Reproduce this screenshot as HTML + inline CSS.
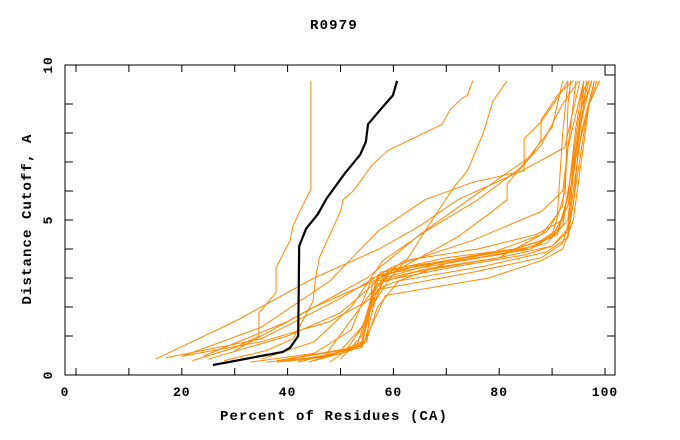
<!DOCTYPE html>
<html><head><meta charset="utf-8"><style>
html,body{margin:0;padding:0;background:#fff;}
svg{display:block;font-family:"Liberation Mono",monospace;font-weight:bold;}
</style></head><body>
<svg id="chart" width="680" height="440" viewBox="0 0 680 440" xmlns="http://www.w3.org/2000/svg">
<text x="334" y="29" text-anchor="middle" font-size="14" letter-spacing="1.2">R0979</text>
<text x="334" y="420" text-anchor="middle" font-size="14" letter-spacing="1.1">Percent of Residues (CA)</text>
<text transform="translate(31,219) rotate(-90)" text-anchor="middle" font-size="14" letter-spacing="1.1">Distance Cutoff, A</text>
<g id="ticks"></g>
<g id="series"></g>
<rect x="65" y="65" width="550" height="310" fill="none" stroke="#000" stroke-width="1"/>
<path d="M605,65V75H615" fill="none" stroke="#000"/>
</svg>
<script>
const xTicks=[0,20,40,60,80,100];
const yTicks=[0,5,10];
const referenceModel=[[25.9,0.0],[39.1,0.45],[40.5,0.6],[42,1.0],[42.2,4.1],[43.5,4.7],[45.7,5.2],[47.4,5.75],[50.8,6.6],[53.7,7.25],[54.8,7.7],[55.2,8.3],[57.5,8.8],[59.9,9.3],[60.7,9.8]];
const m01=[[22,0.15],[30,0.6],[34.6,1.0],[34.6,1.8],[37.8,2.5],[37.8,3.35],[40.5,4.3],[41,4.8],[44.2,6.0],[44.4,6.1],[44.4,9.8]];
const m02=[[28,0.15],[36,0.5],[41,0.9],[44.8,2.2],[45.3,3.0],[46,3.7],[50,5.3],[50.5,5.7],[52.4,6.0],[56,6.9],[59,7.4],[69.2,8.3],[70.7,8.8],[73,9.2],[74,9.3],[75,9.8]];
const m03=[[48,0.1],[51,0.5],[53.7,1.2],[56.5,2.2],[59.4,3.0],[62.8,3.7],[67,4.9],[71.3,6.1],[74,6.7],[77,8.0],[78.8,9.1],[81.5,9.8]];
const m04=[[20,0.3],[35,1.3],[48,2.9],[57,4.6],[66,5.7],[75,6.3],[84.7,6.7],[84.7,7.8],[88,8.4],[91,9.2],[93,9.8]];
const m05=[[24,0.3],[40,1.5],[55,3.0],[65,4.5],[75,5.8],[86,7.2],[87.9,7.75],[87.9,8.45],[91,9.3],[94,9.8]];
const m06=[[30,0.5],[45,2.0],[60,3.2],[72,4.4],[78,5.2],[81.5,5.7],[81.5,6.25],[88,7.6],[92,9.0],[95,9.8]];
const m07=[[15,0.2],[30,1.5],[45,3.0],[57.3,4.0],[65,4.8],[72.2,5.7],[84.3,6.7],[92.4,7.5],[94,8.8],[95.3,9.8]];
const m08=[[17,0.25],[35,0.9],[50,2.3],[60,3.4],[75,4.3],[88,5.3],[92,6.0],[93,7.5],[96,9.8]];
const m09=[[35,0.2],[45,0.8],[52,2.0],[58,3.6],[66,4.6],[76,5.7],[84,6.8],[90,8.2],[92,9.8]];
const b01=[[42,0.1],[53,0.6],[56,2.4],[58,3.0],[70,3.6],[82,3.95],[88,4.3],[92,4.8],[93.5,6.5],[95,8.5],[97,9.8]];
const b02=[[38,0.15],[54,0.65],[56.5,2.6],[57.5,3.2],[68,3.5],[80,3.8],[89,4.2],[93,5.0],[94,7],[96,9],[97.5,9.8]];
const b03=[[44,0.1],[54,0.7],[55.5,2.0],[58,2.9],[72,3.4],[85,3.8],[90,4.1],[93,4.6],[94,6],[95.5,8],[98,9.8]];
const b04=[[40,0.2],[50,0.5],[55,1.5],[57,2.6],[75,3.2],[88,3.7],[92,4.2],[94,5.5],[95,7.5],[97,9.0],[98.5,9.8]];
const b05=[[36,0.1],[47,0.3],[53,1.8],[57,2.8],[64,3.2],[80,3.7],[89,4.6],[92,5.5],[93,7.5],[94,9],[94.5,9.8]];
const b06=[[42,0.15],[54,0.6],[57,1.8],[58.5,2.4],[78,3.0],[88,3.6],[92,4.0],[94,5],[95.5,7],[97,9],[99,9.8]];
const b07=[[46,0.2],[55,0.8],[56,2.8],[62,3.6],[76,4.0],[87,4.5],[92,5.0],[93.5,6.5],[96,8.8],[97.5,9.8]];
const b08=[[50,0.2],[54,1.0],[56,2.5],[60,3.3],[70,3.7],[83,4.0],[90,4.4],[93,5.5],[95,8],[96,9.8]];
const b09=[[20,0.3],[35,0.8],[48,1.5],[55,2.2],[58,2.7],[70,3.5],[85,4.0],[91,4.5],[94,6.5],[96,9],[96.5,9.8]];
const b10=[[25,0.2],[40,1.0],[50,1.8],[57,2.9],[66,3.3],[80,3.7],[90,4.1],[93,4.7],[94.5,7.5],[96,9.5],[97,9.8]];
const b11=[[33,0.1],[45,0.4],[52,1.2],[56,3.0],[64,3.4],[79,3.9],[88,4.5],[91,5.2],[92,8],[93,9.8]];
const b12=[[38,0.1],[48,0.3],[54,0.8],[57,3.1],[70,3.5],[86,4.0],[90,4.5],[92.5,6],[93,9],[93.5,9.8]];
const b13=[[40,0.12],[49,0.4],[54.5,0.75],[56.5,2.2],[59,3.3],[74,3.7],[87,4.1],[91,4.6],[93,5.8],[94.5,8.2],[96,9.8]];
const b14=[[45,0.15],[52,0.5],[55,0.9],[57,2.0],[61,2.9],[77,3.4],[89,3.9],[93,4.4],[94.5,6.2],[96.5,8.6],[98,9.8]];
const orangeSeries=[m01,m02,m03,m04,m05,m06,m07,m08,m09,b01,b02,b03,b04,b05,b06,b07,b08,b09,b10,b11,b12,b13,b14];

const NS="http://www.w3.org/2000/svg";
function xs(v){return 76+5.29*v;}
function ys(v){return 365-29*v;}
const tg=document.getElementById('ticks');
for(let i=0;i<=10;i++){
  const x=xs(i*10);
  const t1=document.createElementNS(NS,'path');
  t1.setAttribute('d',`M${x},375v-7M${x},65v7`);
  t1.setAttribute('stroke','#000');
  
  
  tg.appendChild(t1);
  const y=ys(i);
  if(i>0&&i<10){
    const t2=document.createElementNS(NS,'path');
    t2.setAttribute('d',`M65,${y}h8M615,${y}h-8`);
    t2.setAttribute('stroke','#000');
    
    
    tg.appendChild(t2);
  }
}
xTicks.forEach(v=>{
  const t=document.createElementNS(NS,'text');
  t.setAttribute('x',v===0?65:xs(v));
  t.setAttribute('y',396);
  t.setAttribute('text-anchor','middle');
  t.setAttribute('font-size','13');
  t.setAttribute('letter-spacing','1');
  t.textContent=v;
  
  
  tg.appendChild(t);
});
yTicks.forEach(v=>{
  const t=document.createElementNS(NS,'text');
  const y=v===0?375:(v===10?65:ys(v));
  t.setAttribute('transform',`translate(52,${y}) rotate(-90)`);
  t.setAttribute('text-anchor','middle');
  t.setAttribute('font-size','13');
  t.setAttribute('letter-spacing','1');
  t.textContent=v;
  
  
  tg.appendChild(t);
});
const sg=document.getElementById('series');
function pathOf(pts){return pts.map((p,i)=>(i?'L':'M')+xs(p[0]).toFixed(1)+','+ys(p[1]).toFixed(1)).join('');}
orangeSeries.forEach(s=>{
  const p=document.createElementNS(NS,'path');
  p.setAttribute('d',pathOf(s));
  p.setAttribute('fill','none');
  p.setAttribute('stroke','#ff8800');
  p.setAttribute('stroke-width','1');
  
  
  sg.appendChild(p);
});
const bp=document.createElementNS(NS,'path');
bp.setAttribute('d',pathOf(referenceModel));
bp.setAttribute('fill','none');
bp.setAttribute('stroke','#000');
bp.setAttribute('stroke-width','2.2');


sg.appendChild(bp);
</script>
</body></html>
